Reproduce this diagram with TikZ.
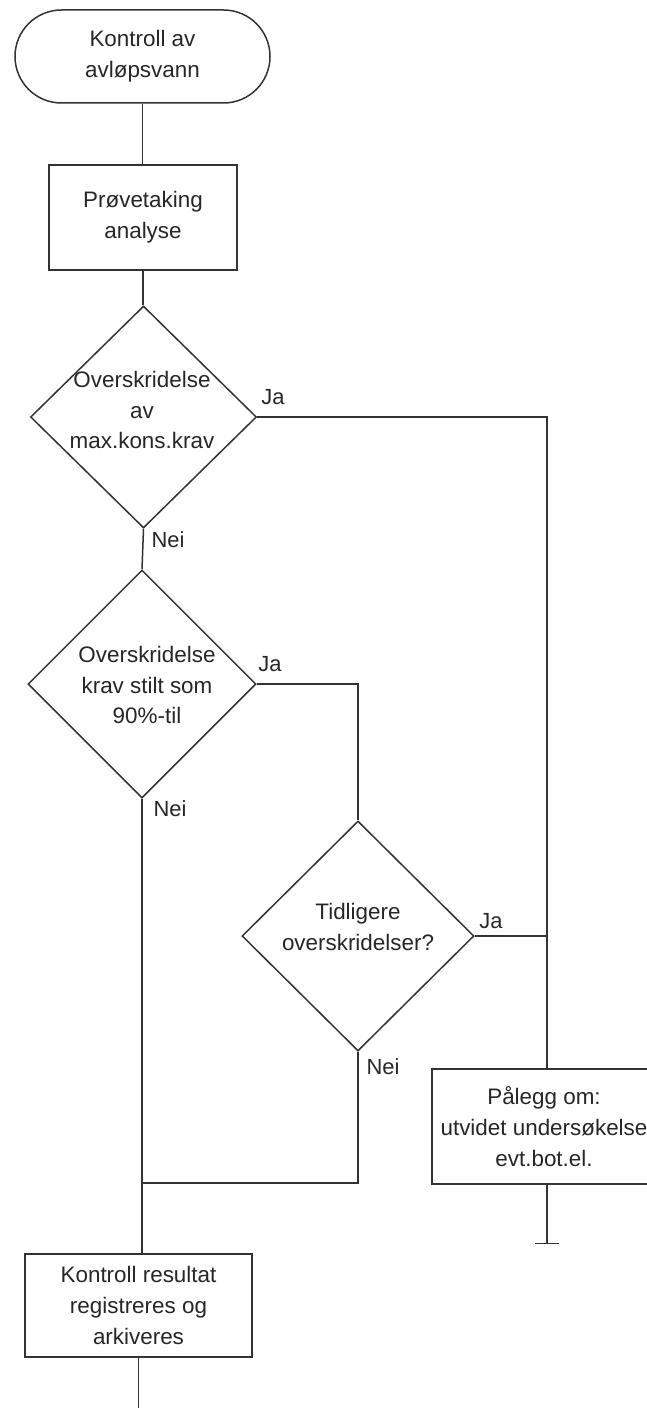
\documentclass[tikz,border=0pt]{standalone}
\usepackage{fontspec}
\setmainfont{Liberation Sans}
\usetikzlibrary{shapes.geometric,arrows.meta}
\begin{document}
\begin{tikzpicture}[x=1bp,y=-1bp,
  line/.style={draw=black!80, line width=1.5bp},
  txt/.style={font=\fontsize{22.5}{31}\selectfont, text=black!85, align=center, inner sep=0pt},
  boxnode/.style={line, rectangle, inner sep=0pt, font=\fontsize{22.5}{31}\selectfont, text=black!85, align=center},
  dia/.style={line, diamond, inner sep=0pt, aspect=1},
  lab/.style={font=\fontsize{22}{26}\selectfont, text=black!85, inner sep=0pt}]
\useasboundingbox (0,0) rectangle (647,1408);
% nodes
\node[boxnode, rounded corners=46.5bp, minimum width=255bp, minimum height=93bp] (term) at (142.5,56.5) {Kontroll av\\avløpsvann};
\node[boxnode, minimum width=188bp, minimum height=105bp] (box2) at (143,217.5) {Prøvetaking\\analyse};
\node[dia, minimum width=226bp, minimum height=222bp] (d1) at (143.5,417) {};
\node[txt] (d1t) at (142,410) {Overskridelse\\av\\max.kons.krav};
\node[dia, minimum width=228bp, minimum height=228bp] (d2) at (142,684) {};
\node[txt] (d2t) at (147,685) {Overskridelse\\krav stilt som\\90\%-til};
\node[dia, minimum width=232bp, minimum height=230bp] (d3) at (358,936) {};
\node[txt] (d3t) at (358,927) {Tidligere\\overskridelser?};
\node[boxnode, minimum width=224bp, minimum height=115bp] (pal) at (544,1126.5) {Pålegg om:\\utvidet undersøkelse\\evt.bot.el.};
\node[boxnode, minimum width=227bp, minimum height=103bp] (box3) at (138.5,1305.5) {Kontroll resultat\\registreres og\\arkiveres};
% coordinates
\coordinate (jr) at (547,417);
\coordinate (jm) at (142,1183);
\coordinate (pend) at (547,1244);
\coordinate (bend) at (138.5,1410);
% connectors
\draw[line] (term.south) -- (term.south |- box2.north);
\draw[line] (box2.south) -- (box2.south |- d1.north);
\draw[line] (d1.east) -- (jr) -- (jr |- pal.north);
\draw[line] (d1.south) -- (d2.north);
\draw[line] (d2.east) -- (d2.east -| d3.north) -- (d3.north);
\draw[line] (d3.east) -- (d3.east -| jr);
\draw[line] (d3.south) -- (d3.south |- jm) -- (jm);
\draw[line] (d2.south) -- (d2.south |- box3.north);
\draw[line] (box3.south) -- (bend);
\draw[line, -{Bar[width=24bp]}] (jr |- pal.south) -- (pend);
% labels
\node[lab] (ja1) at (273,397) {Ja};
\node[lab] (nei1) at (168,540) {Nei};
\node[lab] (ja2) at (270,664) {Ja};
\node[lab] (nei2) at (170,809) {Nei};
\node[lab] (ja3) at (491,921) {Ja};
\node[lab] (nei3) at (383,1067) {Nei};
\end{tikzpicture}
\end{document}
